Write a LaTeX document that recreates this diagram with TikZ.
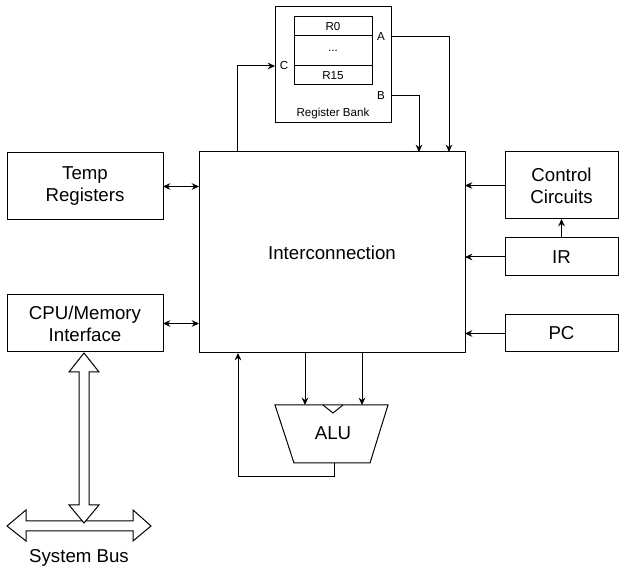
\documentclass[tikz,border=0pt]{standalone}
\usepackage{fontspec}
\setmainfont{Liberation Sans}
\usetikzlibrary{arrows.meta,calc}
\begin{document}
\begin{tikzpicture}[x=0.75pt,y=-0.75pt,
  every node/.style={inner sep=0pt,outer sep=0pt},
  bigfont/.style={font=\fontsize{14}{16.5}\selectfont},
  blk/.style={draw,line width=0.75pt,fill=white,align=center,bigfont},
  reg/.style={draw,line width=0.75pt,minimum width=58.5pt,font=\fontsize{8.7}{10}\selectfont},
  small/.style={font=\fontsize{8.7}{10}\selectfont},
  arr/.style={line width=0.75pt,-{Stealth[length=5.5pt,width=5pt]}},
  darr/.style={line width=0.75pt,{Stealth[length=5.5pt,width=5pt]}-{Stealth[length=5.5pt,width=5pt]}},
  ln/.style={line width=0.75pt},
  hollow/.style={line width=0.75pt,fill=white,line join=miter}]
\useasboundingbox (0,0) rectangle (619,570);
% blocks
\node[blk,minimum width=117pt,minimum height=50.25pt] (temp) at (85,186.5) {Temp\\Registers};
\node[blk,minimum width=117pt,minimum height=42.75pt] (cpu) at (85,323.5) {CPU/Memory\\Interface};
\node[blk,minimum width=199.5pt,minimum height=150.75pt] (ic) at (332,252.5) {Interconnection};
\node[blk,minimum width=84.75pt,minimum height=50.25pt] (ctrl) at (561.5,185.5) {Control\\Circuits};
\node[blk,minimum width=84.75pt,minimum height=28.5pt] (ir) at (561.5,257) {IR};
\node[blk,minimum width=84.75pt,minimum height=27.75pt] (pc) at (561.5,333.5) {PC};
% register bank
\node[draw,line width=0.75pt,minimum width=87pt,minimum height=87pt] (rb) at (333,65) {};
\node[reg,minimum height=14.25pt] (r0) at (333,26.5) {R0};
\node[reg,minimum height=22.5pt] (rdots) at (333,51) {...};
\node[reg,minimum height=14.25pt] (r15) at (333,75.5) {R15};
\node[small] (la) at (381,37) {A};
\node[small] (lb) at (381,96) {B};
\node[small] (lc) at (284,66) {C};
\node[small] (lrb) at (333,114) {Register Bank};
% register bank connections
\draw[arr] (rb.east |- la) -| (449,0 |- ic.north);
\draw[arr] (rb.east |- lb) -| (419,0 |- ic.north);
\draw[arr] (237,0 |- ic.north) |- (rb.west |- lc);
% side connections
\draw[darr] (temp.east) -- (ic.west |- temp.east);
\draw[darr] (cpu.east) -- (ic.west |- cpu.east);
\draw[arr] (ctrl.west) -- (ic.east |- ctrl.west);
\draw[arr] (ir.west) -- (ic.east |- ir.west);
\draw[arr] (pc.west) -- (ic.east |- pc.west);
\draw[arr,line width=1.3pt] (ir.north) -- (ctrl.south);
% ALU
\coordinate (atl) at (275,405);
\coordinate (atr) at (388,405);
\coordinate (abr) at (370,463);
\coordinate (abl) at (294,463);
\draw[ln,line join=miter] (atl) -- (atr) -- (abr) -- (abl) -- cycle;
\draw[ln] (323,405) -- (333,413) -- (343,405);
\node[bigfont] (alu) at (333,433) {ALU};
\coordinate (ina) at (305,405);
\coordinate (inb) at (362,405);
\coordinate (aout) at (334,463);
\draw[arr] (ic.south -| ina) -- (ina);
\draw[arr] (ic.south -| inb) -- (inb);
\draw[arr] (aout) -- (334,477) -| (ic.south -| 238,0);
% system bus
\draw[hollow] (7,526) -- (26,510) -- (26,521) -- (133,521) -- (133,510) -- (151,526)
  -- (133,541) -- (133,531) -- (26,531) -- (26,541) -- cycle;
\draw[hollow] (84,353) -- (99,372) -- (89,372) -- (89,505) -- (99,505) -- (84,523)
  -- (69,505) -- (79,505) -- (79,372) -- (69,372) -- cycle;
\node[bigfont] (sb) at (79,558) {System Bus};
\end{tikzpicture}
\end{document}
